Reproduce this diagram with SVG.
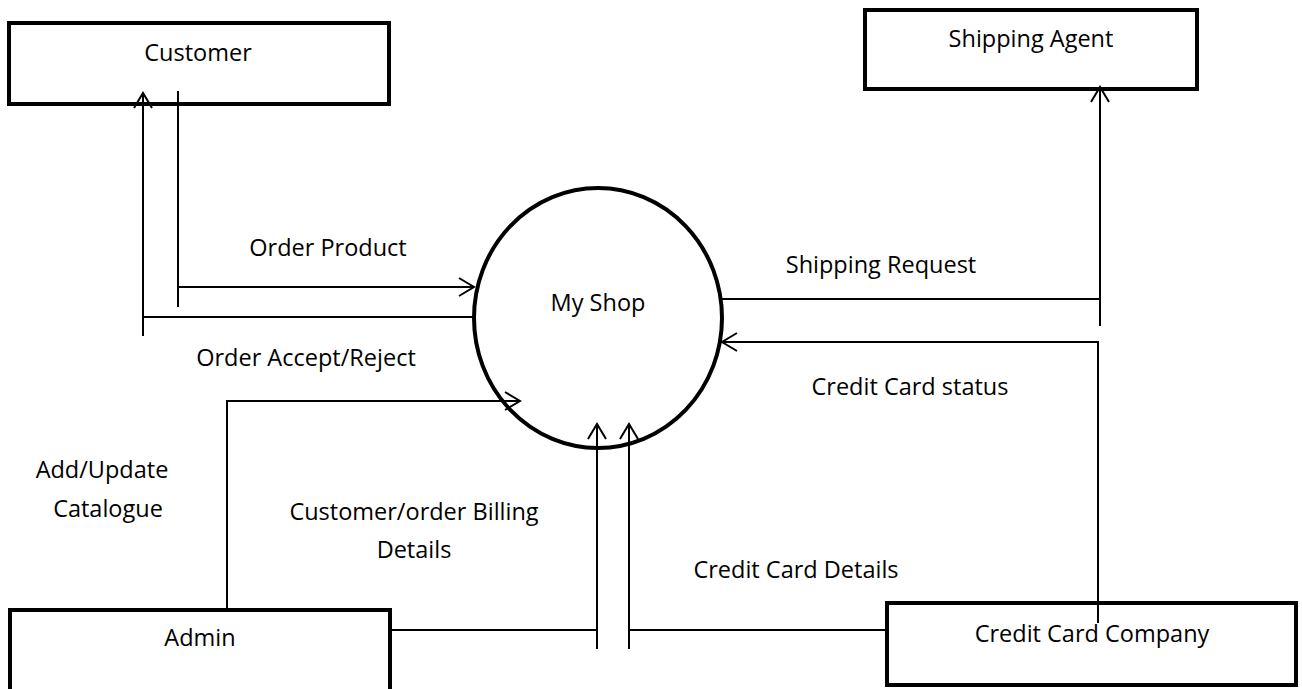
<svg xmlns="http://www.w3.org/2000/svg" width="1302" height="689" viewBox="0 0 1302 689">
<style>
.box{fill:#fff;stroke:#000;stroke-width:4}
.proc{fill:#fff;stroke:#000;stroke-width:4}
.ln{fill:none;stroke:#000;stroke-width:2}
.arr{fill:none;stroke:#000;stroke-width:2;marker-end:url(#ah)}
text{font-family:"Open Sans","Noto Sans",sans-serif;font-size:23.5px;fill:#000;text-anchor:middle}
</style>
<defs>
<marker id="ah" markerUnits="userSpaceOnUse" markerWidth="18" markerHeight="22" viewBox="0 0 18 22" refX="16" refY="11" orient="auto">
<path d="M1,2 L16,11 L1,20" fill="none" stroke="#000" stroke-width="2"/>
</marker>
</defs>
<rect width="1302" height="689" fill="#fff"/>
<g id="customer">
<rect class="box" x="9" y="23" width="380" height="81"/>
<text x="198" y="61">Customer</text>
</g>
<g id="shipping-agent">
<rect class="box" x="865" y="10" width="332" height="79"/>
<text x="1031" y="47">Shipping Agent</text>
</g>
<g id="my-shop">
<ellipse class="proc" cx="598" cy="318" rx="124" ry="130"/>
<text x="598" y="311">My Shop</text>
</g>
<g id="admin">
<rect class="box" x="10" y="610" width="380" height="90"/>
<text x="200" y="646">Admin</text>
</g>
<g id="credit-card-company">
<rect class="box" x="887" y="603" width="409" height="82"/>
<text x="1092" y="642">Credit Card Company</text>
</g>
<g id="connectors">
<path class="arr" d="M143,336 L143,93"/>
<path class="ln" d="M143,317 L475,317"/>
<path class="ln" d="M178,91 L178,307"/>
<path class="arr" d="M178,287 L474,287"/>
<path class="arr" d="M227,612 L227,401 L520,401"/>
<path class="ln" d="M392,630 L598,630"/>
<path class="arr" d="M597,649 L597,424"/>
<path class="arr" d="M629,649 L629,424"/>
<path class="ln" d="M629,630 L885,630"/>
<path class="arr" d="M1098,623 L1098,342 L722,342"/>
<path class="ln" d="M722,299 L1101,299"/>
<path class="arr" d="M1100,326 L1100,87"/>
<text x="328" y="256">Order Product</text>
<text x="306" y="366">Order Accept/Reject</text>
<text x="881" y="273">Shipping Request</text>
<text x="910" y="395">Credit Card status</text>
<text x="102" y="478">Add/Update</text>
<text x="108" y="517">Catalogue</text>
<text x="414" y="520">Customer/order Billing</text>
<text x="414" y="558">Details</text>
<text x="796" y="578">Credit Card Details</text>
</g>
</svg>
